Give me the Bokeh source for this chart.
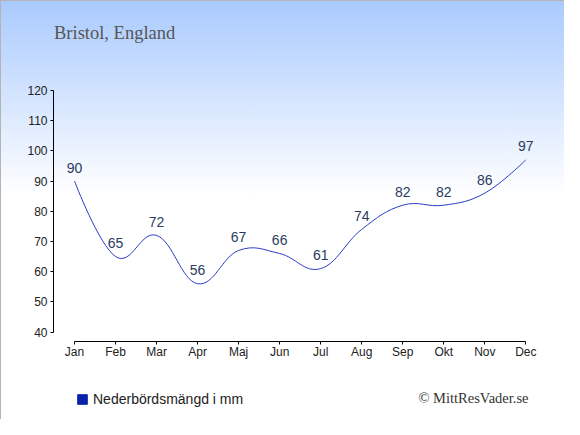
from bokeh.plotting import figure
from bokeh.models import Range1d, FixedTicker, Label, Legend, LegendItem, ColumnDataSource
from bokeh.core.properties import value
from bokeh.embed import file_html
from bokeh.resources import INLINE

months = ["Jan", "Feb", "Mar", "Apr", "Maj", "Jun", "Jul", "Aug", "Sep", "Okt", "Nov", "Dec"]
precip = [90, 65, 72, 56, 67, 66, 61, 74, 82, 82, 86, 97]
y_ticks = [40, 50, 60, 70, 80, 90, 100, 110, 120]
title_text = "Bristol, England"
legend_text = "Nederbördsmängd i mm"
credit_text = "© MittResVader.se"

xs = list(range(len(months)))


def spline_controls(xv, yv, smoothing=1.5):
    n = len(xv)
    left = [(xv[i], yv[i]) for i in range(n)]
    right = [(xv[i], yv[i]) for i in range(n)]
    d = smoothing + 1
    for i in range(1, n - 1):
        lx, ly = xv[i - 1], yv[i - 1]
        px, py = xv[i], yv[i]
        nx, ny = xv[i + 1], yv[i + 1]
        lcx = (smoothing * px + lx) / d
        lcy = (smoothing * py + ly) / d
        rcx = (smoothing * px + nx) / d
        rcy = (smoothing * py + ny) / d
        if rcx != lcx:
            corr = ((rcy - lcy) * (rcx - px)) / (rcx - lcx) + py - rcy
            lcy += corr
            rcy += corr
        left[i] = (lcx, lcy)
        right[i] = (rcx, rcy)
    seg = dict(x0=[], y0=[], x1=[], y1=[], cx0=[], cy0=[], cx1=[], cy1=[])
    for i in range(1, n):
        seg["x0"].append(xv[i - 1]); seg["y0"].append(yv[i - 1])
        seg["x1"].append(xv[i]); seg["y1"].append(yv[i])
        seg["cx0"].append(right[i - 1][0]); seg["cy0"].append(right[i - 1][1])
        seg["cx1"].append(left[i][0]); seg["cy1"].append(left[i][1])
    return seg


W, H = 564, 419
FL, FT = 53, 20            # frame left / top in px
PX_X = 41.03               # px per month
PX_Y = 3.019               # px per mm
JAN_PX, Y40_PX = 74, 331.5
x0 = -(JAN_PX - FL) / PX_X
x1 = x0 + (W - FL) / PX_X
y_top = 40 + (Y40_PX - FT) / PX_Y
y_bot = 40 - (H - Y40_PX) / PX_Y

p = figure(width=W, height=H, output_backend="svg", toolbar_location=None,
           x_range=Range1d(x0, x1), y_range=Range1d(y_bot, y_top),
           x_axis_location="above", y_axis_location="left",
           min_border_left=FL, min_border_right=0, min_border_top=FT, min_border_bottom=0)
p.styles = {"background-image": "linear-gradient(to bottom, #a9cafe 0px, #ffffff 195px)",
            "box-shadow": "inset 1px 1px 0 #b4b4b4"}
p.background_fill_color = None
p.border_fill_color = None
p.outline_line_color = None
p.grid.visible = False

line_color = "#2b3cc4"
src = ColumnDataSource(spline_controls(xs, precip))
p.bezier(x0="x0", y0="y0", x1="x1", y1="y1", cx0="cx0", cy0="cy0", cx1="cx1", cy1="cy1",
         source=src, line_color=line_color, line_width=1)

p.text(x=xs, y=precip, text=[str(v) for v in precip], text_align="center",
       text_baseline="middle", y_offset=-13.5, text_color="#2a3c5e",
       text_font=value("Liberation Sans"), text_font_size="14px")

for ax in (p.xaxis[0], p.yaxis[0]):
    ax.axis_line_color = "#000000"
    ax.major_tick_line_color = "#000000"
    ax.minor_tick_line_color = None
    ax.major_label_text_font = "Liberation Sans"
    ax.major_label_text_font_size = "12px"
    ax.major_label_text_color = "#222222"

xa = p.xaxis[0]
xa.bounds = (0, len(months) - 1)
xa.ticker = FixedTicker(ticks=xs)
xa.major_label_overrides = {i: m for i, m in enumerate(months)}
xa.fixed_location = 40 - 9.2 / PX_Y
xa.major_tick_in = 3
xa.major_tick_out = 0
xa.major_label_standoff = -18

ya = p.yaxis[0]
ya.bounds = (y_ticks[0], y_ticks[-1])
ya.ticker = FixedTicker(ticks=y_ticks)
ya.major_tick_in = 0
ya.major_tick_out = 3
ya.major_label_standoff = 3

p.add_layout(Label(x=0.5, y=H - 32.3, x_units="screen", y_units="screen", text=title_text,
                   text_font="Liberation Serif", text_font_size="18.5px", text_color="#555555",
                   text_baseline="middle"))
p.add_layout(Label(x=528 - FL, y=H - 397, x_units="screen", y_units="screen", text=credit_text,
                   text_font="Liberation Serif", text_font_size="14.5px", text_color="#333333",
                   text_align="right", text_baseline="middle"))

proxy = p.quad(left=xs[:1], right=xs[:1], top=precip[:1], bottom=precip[:1],
               fill_color="#0a22aa", line_color="#0a22aa")
proxy.visible = False
legend = Legend(items=[LegendItem(label=legend_text, renderers=[proxy])],
                location=(76 - FL, H - 407), orientation="horizontal",
                padding=0, margin=0, spacing=0, glyph_width=12, glyph_height=12,
                label_standoff=5, label_height=12,
                label_text_font="Liberation Sans", label_text_font_size="14px",
                label_text_color="#222222", border_line_color=None,
                background_fill_alpha=0, inactive_fill_alpha=0)
p.add_layout(legend, "center")

open("out.html", "w").write(file_html(p, INLINE))
